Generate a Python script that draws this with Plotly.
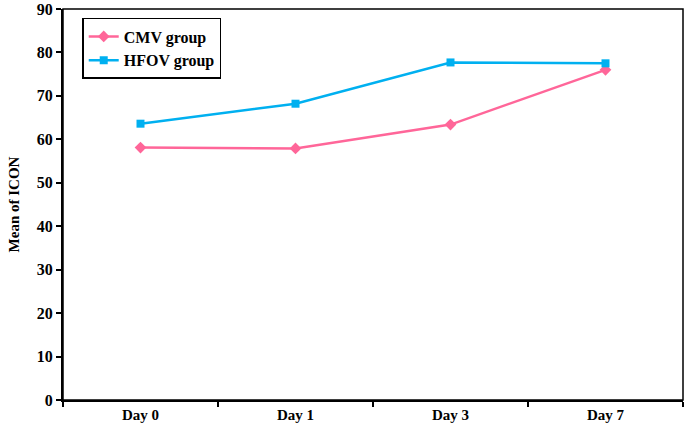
import plotly.graph_objects as go

days = ["Day 0", "Day 1", "Day 3", "Day 7"]
cmv = [58.1, 57.9, 63.4, 76.0]
hfov = [63.6, 68.2, 77.7, 77.5]
y_ticks = [0, 10, 20, 30, 40, 50, 60, 70, 80, 90]

font_family = "Liberation Serif"

fig = go.Figure()
fig.add_trace(go.Scatter(
    x=days, y=cmv, name="<b>CMV group</b>", mode="lines+markers",
    line=dict(color="#FF6699", width=2.5),
    marker=dict(symbol="diamond", size=9, color="#FF6699"),
))
fig.add_trace(go.Scatter(
    x=days, y=hfov, name="<b>HFOV group</b>", mode="lines+markers",
    line=dict(color="#00B0F0", width=2.5),
    marker=dict(symbol="square", size=8, color="#00B0F0"),
))

fig.update_layout(
    width=685, height=433,
    margin=dict(l=63, r=2, t=9, b=33),
    paper_bgcolor="white", plot_bgcolor="white",
    font=dict(family=font_family, size=13, color="black"),
    showlegend=True,
    legend=dict(
        x=0.031, y=0.977, xanchor="left", yanchor="top",
        bordercolor="black", borderwidth=1.5, bgcolor="white",
        font=dict(family=font_family, size=16, color="black"),
        itemwidth=30, tracegroupgap=2,
    ),
    xaxis=dict(
        type="category", categoryorder="array", categoryarray=days,
        range=[-0.5, 3.5], tickson="boundaries",
        ticks="outside", ticklen=5, tickwidth=1.5, tickcolor="black",
        showline=True, linecolor="black", linewidth=2,
        showgrid=False, zeroline=False,
        tickfont=dict(family=font_family, size=15, color="black"),
        tickprefix="<b>", ticksuffix="</b>",
    ),
    yaxis=dict(
        range=[0, 90], tickvals=y_ticks,
        ticktext=[f"<b>{v}</b>" for v in y_ticks],
        ticks="outside", ticklen=5, tickwidth=1.5, tickcolor="black",
        showline=True, linecolor="black", linewidth=2,
        showgrid=False, zeroline=False,
        tickfont=dict(family=font_family, size=16, color="black"),
        title=dict(text="<b>Mean of ICON</b>", font=dict(family=font_family, size=15), standoff=14),
    ),
)
fig.add_shape(type="rect", xref="paper", yref="paper", x0=0, y0=0, x1=1, y1=1,
              line=dict(color="black", width=1.5))

fig.write_html("out.html", config={"displayModeBar": False},
               post_script="document.body.style.margin='0';")
